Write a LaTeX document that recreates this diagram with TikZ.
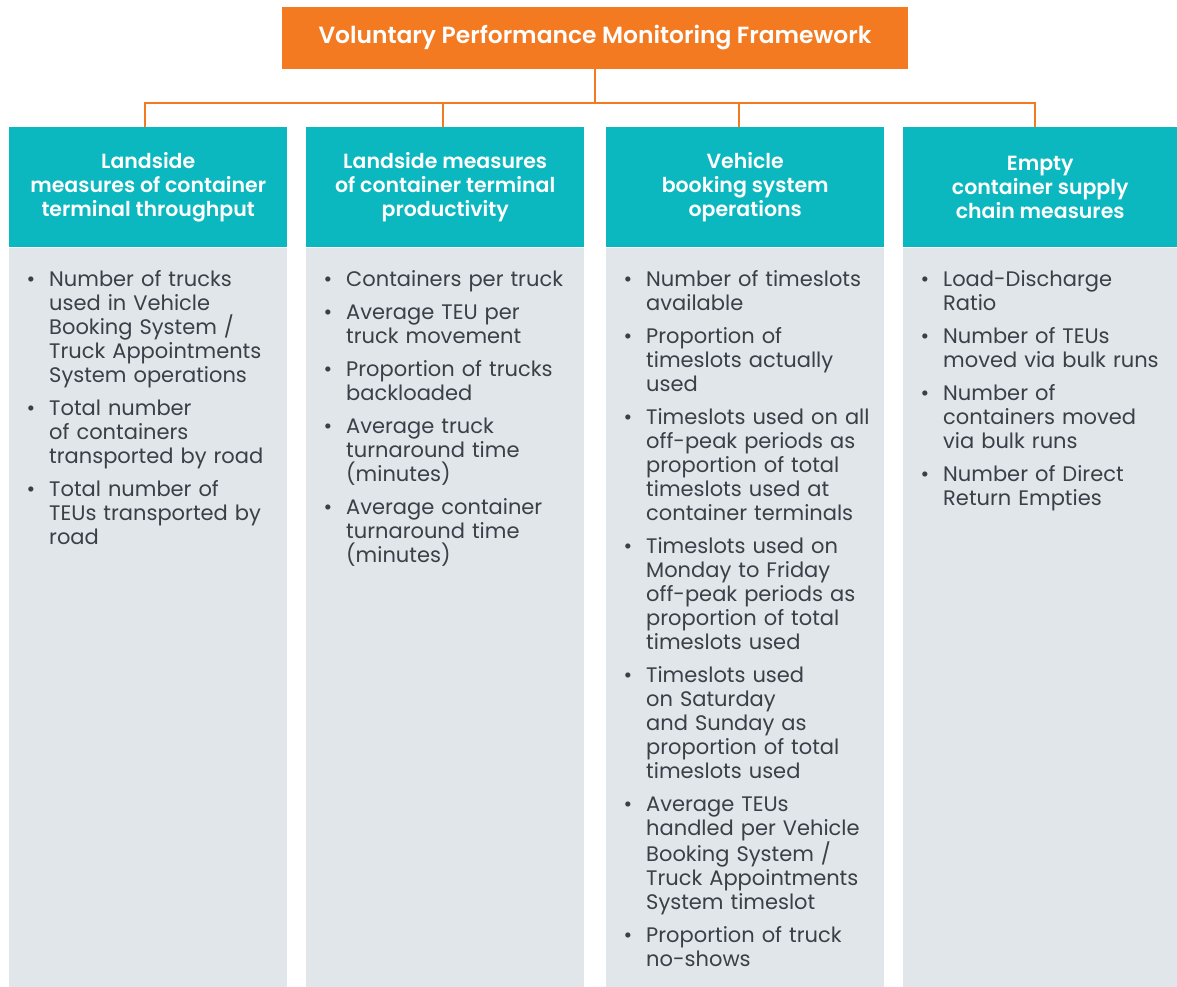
\documentclass[tikz,border=0pt]{standalone}
\usepackage{fontspec}
\setmainfont{Poppins}[BoldFont={Poppins SemiBold}]
\usetikzlibrary{positioning}

\definecolor{vporange}{HTML}{F47A22}
\definecolor{vpteal}{HTML}{0BB8BF}
\definecolor{vpgrey}{HTML}{E1E6EA}
\definecolor{vptext}{HTML}{3A3F48}

\newenvironment{measures}{%
  \begin{list}{\textbullet}{%
    \setlength{\leftmargin}{40pt}%
    \setlength{\labelsep}{14pt}%
    \setlength{\labelwidth}{10pt}%
    \setlength{\itemsep}{9pt}%
    \setlength{\parsep}{0pt}%
    \setlength{\topsep}{0pt}%
    \setlength{\partopsep}{0pt}}}%
  {\end{list}}

\begin{document}
\begin{tikzpicture}[x=1pt,y=1pt]
  \tikzset{
    titlebox/.style={fill=vporange,text=white,inner sep=0pt,
      font=\bfseries\fontsize{23.4}{24}\selectfont,
      minimum width=626pt,minimum height=62pt},
    headbox/.style={fill=vpteal,text=white,inner sep=0pt,align=center,
      font=\bfseries\fontsize{20.5}{24}\selectfont,anchor=north west,
      minimum width=278pt,minimum height=120pt},
    panel/.style={fill=vpgrey,inner sep=0pt,anchor=north west,
      minimum width=278pt,minimum height=740pt},
    points/.style={text=vptext,inner sep=0pt,anchor=north west,
      font=\fontsize{21}{24}\selectfont,text width=272pt,align=left},
    link/.style={draw=vporange,line width=2.4pt},
  }
  \useasboundingbox (0,0) rectangle (1177,-987);

  %TITLE
  \node[titlebox] (title) at (595,-38) {Voluntary Performance Monitoring Framework};

  %COLUMN HEADS
  \node[headbox] (h1) at (9,-127) {Landside\\measures of container\\terminal throughput};
  \node[headbox] (h2) at (306,-127) {Landside measures\\of container terminal\\productivity};
  \node[headbox] (h3) at (606,-127) {Vehicle\\booking system\\operations};
  \node[headbox,minimum width=274pt] (h4) at (903,-127) {Empty\\container supply\\chain measures};

  %PANELS
  \node[panel] (p1) at (h1.south west) {};
  \node[panel] (p2) at (h2.south west) {};
  \node[panel] (p3) at (h3.south west) {};
  \node[panel,minimum width=274pt] (p4) at (h4.south west) {};

  %CONNECTORS
  \coordinate (split) at (595,-103);
  \draw[link] (title.south) -- (split);
  \foreach \h/\dx in {h1/-3,h2/-2,h3/-6,h4/-5} {
    \draw[link] (split) -| ([xshift=\dx pt]\h.north);
  }

  %MEASURES
  \node[points] (l1) at ([yshift=-15pt]p1.north west) {\begin{measures}
    \item Number of trucks\\used in Vehicle\\Booking System /\\Truck Appointments\\System operations
    \item Total number\\of containers\\transported by road
    \item Total number of\\TEUs transported by\\road
  \end{measures}};
  \node[points] (l2) at ([yshift=-15pt]p2.north west) {\begin{measures}
    \item Containers per truck
    \item Average TEU per\\truck movement
    \item Proportion of trucks\\backloaded
    \item Average truck\\turnaround time\\(minutes)
    \item Average container\\turnaround time\\(minutes)
  \end{measures}};
  \node[points] (l3) at ([yshift=-15pt]p3.north west) {\begin{measures}
    \item Number of timeslots\\available
    \item Proportion of\\timeslots actually\\used
    \item Timeslots used on all\\off-peak periods as\\proportion of total\\timeslots used at\\container terminals
    \item Timeslots used on\\Monday to Friday\\off-peak periods as\\proportion of total\\timeslots used
    \item Timeslots used\\on Saturday\\and Sunday as\\proportion of total\\timeslots used
    \item Average TEUs\\handled per Vehicle\\Booking System /\\Truck Appointments\\System timeslot
    \item Proportion of truck\\no-shows
  \end{measures}};
  \node[points] (l4) at ([yshift=-15pt]p4.north west) {\begin{measures}
    \item Load-Discharge\\Ratio
    \item Number of TEUs\\moved via bulk runs
    \item Number of\\containers moved\\via bulk runs
    \item Number of Direct\\Return Empties
  \end{measures}};
\end{tikzpicture}
\end{document}
